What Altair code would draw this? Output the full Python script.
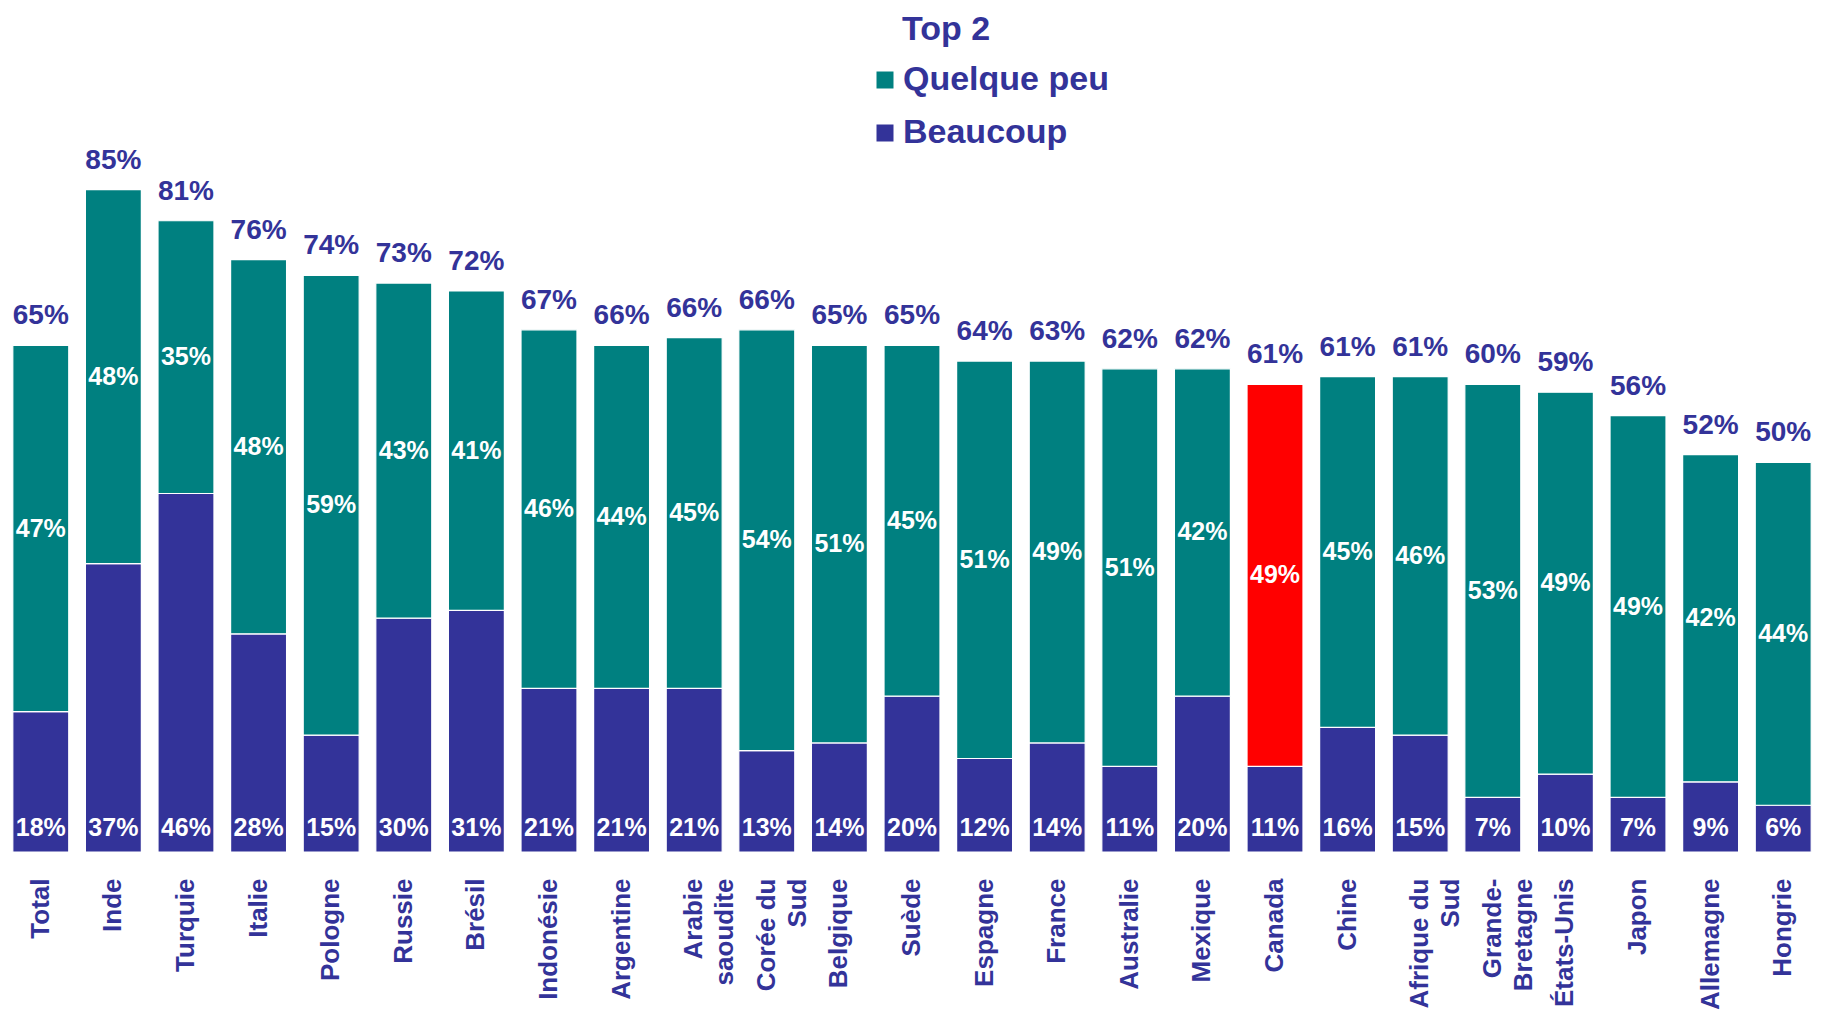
import altair as alt
import pandas as pd

pays = ["Total", "Inde", "Turquie", "Italie", "Pologne", "Russie", "Brésil", "Indonésie",
        "Argentine", "Arabie saoudite", "Corée du Sud", "Belgique", "Suède", "Espagne",
        "France", "Australie", "Mexique", "Canada", "Chine", "Afrique du Sud",
        "Grande-Bretagne", "États-Unis", "Japon", "Allemagne", "Hongrie"]
beaucoup = [18, 37, 46, 28, 15, 30, 31, 21, 21, 21, 13, 14, 20, 12, 14, 11, 20, 11, 16, 15, 7, 10, 7, 9, 6]
quelque_peu = [47, 48, 35, 48, 59, 43, 41, 46, 44, 45, 54, 51, 45, 51, 49, 51, 42, 49, 45, 46, 53, 49, 49, 42, 44]
top2 = [65, 85, 81, 76, 74, 73, 72, 67, 66, 66, 66, 65, 65, 64, 63, 62, 62, 61, 61, 61, 60, 59, 56, 52, 50]
series = ["Quelque peu", "Beaucoup"]
legend_title = ["Top 2"]
line_breaks = {
    "Arabie saoudite": ["Arabie", "saoudite"],
    "Corée du Sud": ["Corée du", "Sud"],
    "Afrique du Sud": ["Afrique du", "Sud"],
    "Grande-Bretagne": ["Grande-", "Bretagne"],
}

NAVY = "#333399"
TEAL = "#008080"
RED = "#ff0000"
FONT = "Liberation Sans"

rows = []
for i, p in enumerate(pays):
    rows.append({"pays": p, "serie": "Beaucoup", "valeur": beaucoup[i], "ordre": 0})
    rows.append({"pays": p, "serie": "Quelque peu", "valeur": quelque_peu[i], "ordre": 1})
long_df = pd.DataFrame(rows)
wide_df = pd.DataFrame({"pays": pays, "beaucoup": beaucoup, "quelque": quelque_peu, "total": top2})
title_df = pd.DataFrame({"titre": legend_title})

parts = []
for k, v in line_breaks.items():
    parts.append(f"datum.value == '{k}' ? ['{v[0]}', '{v[1]}']")
label_expr = " : ".join(parts) + " : datum.label"

x_enc = alt.X(
    "pays:N", sort=pays, title=None,
    scale=alt.Scale(paddingInner=0.229, paddingOuter=0.066),
    axis=alt.Axis(labelAngle=270, labelFontSize=26, labelFont=FONT, labelFontWeight="bold",
                  labelColor=NAVY, ticks=False, tickSize=0, domain=False, labelPadding=26,
                  labelLineHeight=31, labelExpr=label_expr, labelOverlap=False),
)
y_scale = alt.Scale(domain=[0, 108.3], nice=False, zero=True)

bars = alt.Chart(long_df).mark_bar(stroke="#ffffff", strokeWidth=1.2).encode(
    x=x_enc,
    y=alt.Y("valeur:Q", stack="zero", scale=y_scale, axis=None),
    color=alt.when((alt.datum.pays == "Canada") & (alt.datum.serie == "Quelque peu"))
    .then(alt.value(RED))
    .otherwise(alt.Color(
        "serie:N",
        scale=alt.Scale(domain=series, range=[TEAL, NAVY]),
        legend=alt.Legend(
            orient="none", legendX=860, legendY=55, padding=0, title=None,
            labelFontSize=34, labelFont=FONT, labelFontWeight="bold", labelColor=NAVY,
            labelLimit=400,
            symbolType="square", symbolSize=289, symbolStrokeWidth=0,
            labelOffset=1, rowPadding=19,
        ),
    )),
    order=alt.Order("ordre:Q"),
)

base = alt.Chart(wide_df).transform_calculate(
    pile="datum.beaucoup + datum.quelque",
    milieu="datum.beaucoup + datum.quelque / 2",
    zero="0",
    lbl_b="datum.beaucoup + '%'",
    lbl_q="datum.quelque + '%'",
    lbl_t="datum.total + '%'",
)

txt_bottom = base.mark_text(color="white", fontSize=25, font=FONT, fontWeight="bold",
                            baseline="middle", dy=-24).encode(
    x=x_enc, y=alt.Y("zero:Q", scale=y_scale, axis=None), text="lbl_b:N")

txt_mid = base.mark_text(color="white", fontSize=25, font=FONT, fontWeight="bold",
                         baseline="middle").encode(
    x=x_enc, y=alt.Y("milieu:Q", scale=y_scale, axis=None), text="lbl_q:N")

txt_top = base.mark_text(color=NAVY, fontSize=28, font=FONT, fontWeight="bold",
                         baseline="middle", dy=-29).encode(
    x=x_enc, y=alt.Y("pile:Q", scale=y_scale, axis=None), text="lbl_t:N")

legend_head = alt.Chart(title_df).mark_text(
    color=NAVY, fontSize=34, font=FONT, fontWeight="bold", align="left", baseline="alphabetic"
).encode(x=alt.value(894), y=alt.value(32), text="titre:N")

chart = alt.layer(bars, txt_bottom, txt_mid, txt_top, legend_head).properties(
    width=1808, height=844,
    autosize=alt.AutoSizeParams(type="none"),
    padding={"left": 0, "top": 0, "right": 0, "bottom": 159},
).configure(font=FONT).configure_view(stroke=None)

chart.save("out.html", embed_options={"renderer": "svg", "actions": False})
